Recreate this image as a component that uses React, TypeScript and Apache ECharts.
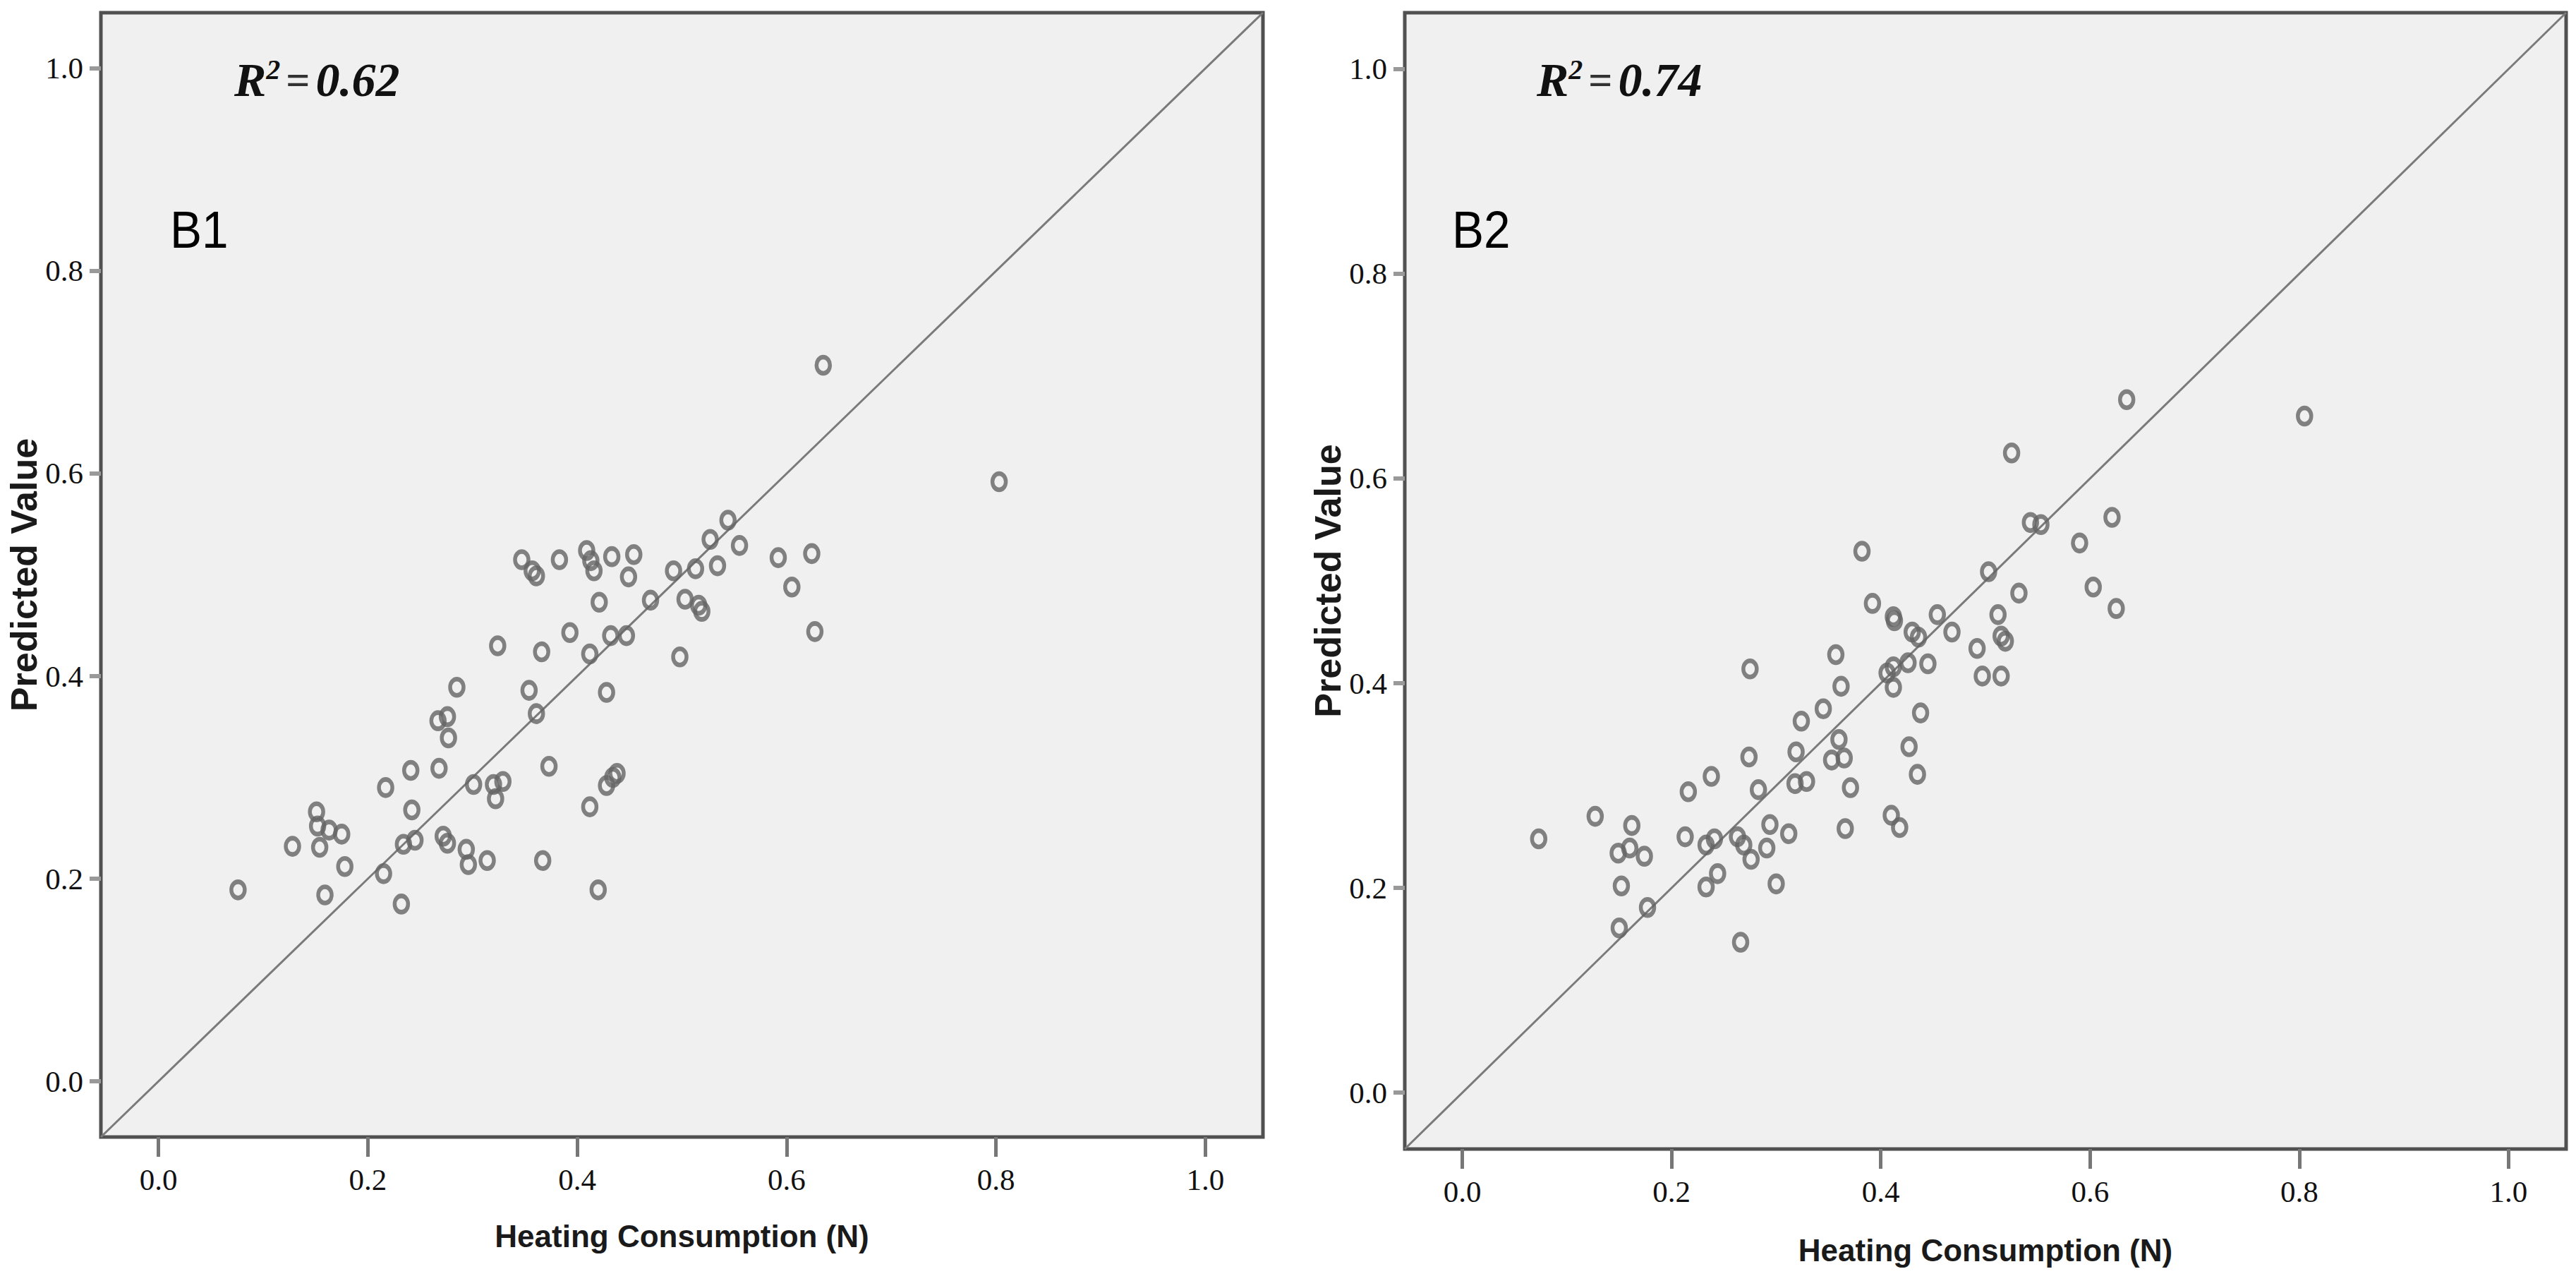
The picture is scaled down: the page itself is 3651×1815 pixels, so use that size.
import React, { useEffect, useRef } from "react";
import * as echarts from "echarts";

// ---------- data ----------
const tickValues = [0, 0.2, 0.4, 0.6, 0.8, 1.0];
const xTitle = "Heating Consumption (N)";
const yTitle = "Predicted Value";
const panelLabels = ["B1", "B2"];
const r2Values = ["0.62", "0.74"];

const b1X = [
  0.544, 0.527, 0.555, 0.592, 0.624, 0.347, 0.357, 0.361, 0.383, 0.409,
  0.413, 0.416, 0.433, 0.454, 0.449, 0.492, 0.513, 0.534, 0.605, 0.421,
  0.470, 0.503, 0.516, 0.519, 0.393, 0.432, 0.447, 0.627, 0.324, 0.366,
  0.412, 0.498, 0.285, 0.354, 0.428, 0.361, 0.267, 0.276, 0.277, 0.241,
  0.268, 0.373, 0.217, 0.301, 0.320, 0.329, 0.322, 0.438, 0.434, 0.428,
  0.242, 0.412, 0.151, 0.152, 0.163, 0.175, 0.128, 0.154, 0.178, 0.234,
  0.245, 0.272, 0.276, 0.294, 0.296, 0.314, 0.367, 0.215, 0.076, 0.159,
  0.232, 0.420, 0.635, 0.803,
];
const b1Y = [
  0.554, 0.535, 0.529, 0.517, 0.521, 0.515, 0.504, 0.499, 0.515, 0.524,
  0.514, 0.504, 0.518, 0.520, 0.498, 0.504, 0.506, 0.509, 0.488, 0.473,
  0.475, 0.476, 0.470, 0.464, 0.443, 0.440, 0.440, 0.444, 0.430, 0.424,
  0.422, 0.419, 0.389, 0.386, 0.384, 0.363, 0.356, 0.360, 0.339, 0.307,
  0.309, 0.311, 0.290, 0.293, 0.293, 0.296, 0.279, 0.304, 0.300, 0.292,
  0.268, 0.271, 0.266, 0.252, 0.248, 0.244, 0.232, 0.231, 0.212, 0.234,
  0.238, 0.242, 0.235, 0.229, 0.214, 0.218, 0.218, 0.205, 0.189, 0.184,
  0.175, 0.189, 0.707, 0.592,
];

const b2X = [
  0.635, 0.805, 0.525, 0.621, 0.543, 0.553, 0.590, 0.382, 0.503, 0.603,
  0.532, 0.625, 0.392, 0.412, 0.413, 0.454, 0.430, 0.436, 0.468, 0.512,
  0.515, 0.519, 0.492, 0.357, 0.275, 0.426, 0.445, 0.412, 0.406, 0.362,
  0.412, 0.497, 0.515, 0.345, 0.324, 0.438, 0.360, 0.319, 0.274, 0.353,
  0.365, 0.427, 0.238, 0.216, 0.318, 0.329, 0.283, 0.371, 0.435, 0.127,
  0.162, 0.073, 0.149, 0.160, 0.174, 0.213, 0.233, 0.241, 0.263, 0.269,
  0.276, 0.294, 0.291, 0.312, 0.366, 0.410, 0.418, 0.152, 0.244, 0.233,
  0.300, 0.177, 0.150, 0.266,
];
const b2Y = [
  0.677, 0.661, 0.625, 0.562, 0.557, 0.555, 0.537, 0.529, 0.509, 0.494,
  0.488, 0.473, 0.478, 0.465, 0.461, 0.467, 0.450, 0.445, 0.450, 0.467,
  0.446, 0.441, 0.434, 0.428, 0.414, 0.420, 0.419, 0.416, 0.410, 0.397,
  0.396, 0.407, 0.407, 0.375, 0.363, 0.371, 0.345, 0.333, 0.328, 0.325,
  0.327, 0.338, 0.309, 0.294, 0.302, 0.304, 0.296, 0.298, 0.311, 0.270,
  0.261, 0.248, 0.234, 0.239, 0.231, 0.250, 0.242, 0.248, 0.250, 0.242,
  0.228, 0.262, 0.239, 0.253, 0.258, 0.271, 0.259, 0.202, 0.214, 0.201,
  0.204, 0.181, 0.161, 0.147,
];

// ---------- layout / style ----------
const AXIS_MIN = -0.055;
const AXIS_MAX = 1.055;
const grids = [
  { left: 143, top: 18, width: 1647, height: 1593, xNameGap: 118, yNameGap: 78, labelDx: 98, r2Dx: 189 },
  { left: 1991, top: 18, width: 1646, height: 1610, xNameGap: 121, yNameGap: 76, labelDx: 67, r2Dx: 187 },
];

const ELLIPSE =
  "path://M0,-1 C0.5523,-1 1,-0.5523 1,0 C1,0.5523 0.5523,1 0,1 C-0.5523,1 -1,0.5523 -1,0 C-1,-0.5523 -0.5523,-1 0,-1 Z";

function zip(xs: number[], ys: number[]) {
  return xs.map((x, i) => [x, ys[i]]);
}

function buildOption() {
  const grid = grids.map((g) => ({
    left: g.left,
    top: g.top,
    width: g.width,
    height: g.height,
    show: true,
    backgroundColor: "#f0f0f0",
    borderColor: "#505050",
    borderWidth: 5,
    containLabel: false,
    outerBoundsMode: "none",
  }));

  const xAxis = grids.map((g, i) => ({
    type: "value",
    gridIndex: i,
    min: AXIS_MIN,
    max: AXIS_MAX,
    name: xTitle,
    nameLocation: "middle",
    nameGap: g.xNameGap,
    nameTextStyle: {
      fontFamily: "Liberation Sans, Arial, sans-serif",
      fontWeight: "bold",
      fontSize: 44,
      color: "#1a1a1a",
    },
    axisLine: { show: false, onZero: false },
    axisTick: {
      show: true,
      customValues: tickValues,
      length: 28,
      lineStyle: { color: "#777", width: 5 },
    },
    axisLabel: {
      show: true,
      customValues: tickValues,
      formatter: (v: number) => v.toFixed(1),
      margin: 39,
      fontFamily: "Liberation Serif, Times New Roman, serif",
      fontSize: 43,
      color: "#111",
    },
    splitLine: { show: false },
  }));

  const yAxis = grids.map((g, i) => ({
    type: "value",
    gridIndex: i,
    min: AXIS_MIN,
    max: AXIS_MAX,
    name: yTitle,
    nameLocation: "middle",
    nameRotate: 90,
    nameGap: g.yNameGap,
    nameTextStyle: {
      fontFamily: "Liberation Sans, Arial, sans-serif",
      fontWeight: "bold",
      fontSize: 52,
      color: "#1a1a1a",
    },
    axisLine: { show: false, onZero: false },
    axisTick: {
      show: true,
      customValues: tickValues,
      length: 16,
      lineStyle: { color: "#999", width: 6 },
    },
    axisLabel: {
      show: true,
      customValues: tickValues,
      formatter: (v: number) => v.toFixed(1),
      margin: 25,
      fontFamily: "Liberation Serif, Times New Roman, serif",
      fontSize: 43,
      color: "#111",
    },
    splitLine: { show: false },
  }));

  const datasets = [zip(b1X, b1Y), zip(b2X, b2Y)];
  const series: any[] = [];
  datasets.forEach((d, i) => {
    series.push({
      type: "line",
      xAxisIndex: i,
      yAxisIndex: i,
      data: [
        [AXIS_MIN, AXIS_MIN],
        [AXIS_MAX, AXIS_MAX],
      ],
      symbol: "none",
      silent: true,
      lineStyle: { color: "#7a7a7a", width: 3 },
      z: 1,
    });
    series.push({
      type: "scatter",
      xAxisIndex: i,
      yAxisIndex: i,
      data: d,
      symbol: ELLIPSE,
      symbolSize: [19, 23],
      itemStyle: { color: "rgba(0,0,0,0)", borderColor: "#646464", borderWidth: 6 },
      z: 2,
    });
  });

  const graphic: any[] = [];
  grids.forEach((g, i) => {
    graphic.push({
      type: "text",
      x: g.left + g.r2Dx,
      y: 113,
      z: 100,
      style: {
        text: `{r|R}{s|2}{e|=}{v|${r2Values[i]}}`,
        align: "left",
        verticalAlign: "middle",
        rich: {
          r: { fontFamily: "Liberation Serif", fontStyle: "italic", fontWeight: "bold", fontSize: 68, lineHeight: 70, fill: "#111" },
          s: { fontFamily: "Liberation Serif", fontStyle: "italic", fontWeight: "bold", fontSize: 40, lineHeight: 40, verticalAlign: "top", fill: "#111" },
          e: { fontFamily: "Liberation Serif", fontWeight: "bold", fontSize: 60, lineHeight: 70, padding: [0, 8, 0, 8], fill: "#333" },
          v: { fontFamily: "Liberation Serif", fontStyle: "italic", fontWeight: "bold", fontSize: 68, lineHeight: 70, fill: "#111" },
        },
      },
    });
    graphic.push({
      type: "text",
      x: g.left + g.labelDx,
      y: 325,
      scaleX: 0.9,
      z: 100,
      style: {
        text: panelLabels[i],
        fontFamily: "Liberation Sans, Arial, sans-serif",
        fontSize: 75,
        fill: "#000",
        align: "left",
        verticalAlign: "middle",
      },
    });
  });

  return {
    animation: false,
    backgroundColor: "#ffffff",
    grid,
    xAxis,
    yAxis,
    series,
    graphic,
  };
}

export default function App() {
  const ref = useRef<HTMLDivElement>(null);
  useEffect(() => {
    document.body.style.margin = "0";
    const chart = echarts.init(ref.current as HTMLDivElement, null, { renderer: "svg" });
    chart.setOption(buildOption() as any);
    return () => {
      chart.dispose();
    };
  }, []);
  return (
    <div
      ref={ref}
      style={{ position: "absolute", left: 0, top: 0, width: 3651, height: 1815, background: "#fff" }}
    />
  );
}
